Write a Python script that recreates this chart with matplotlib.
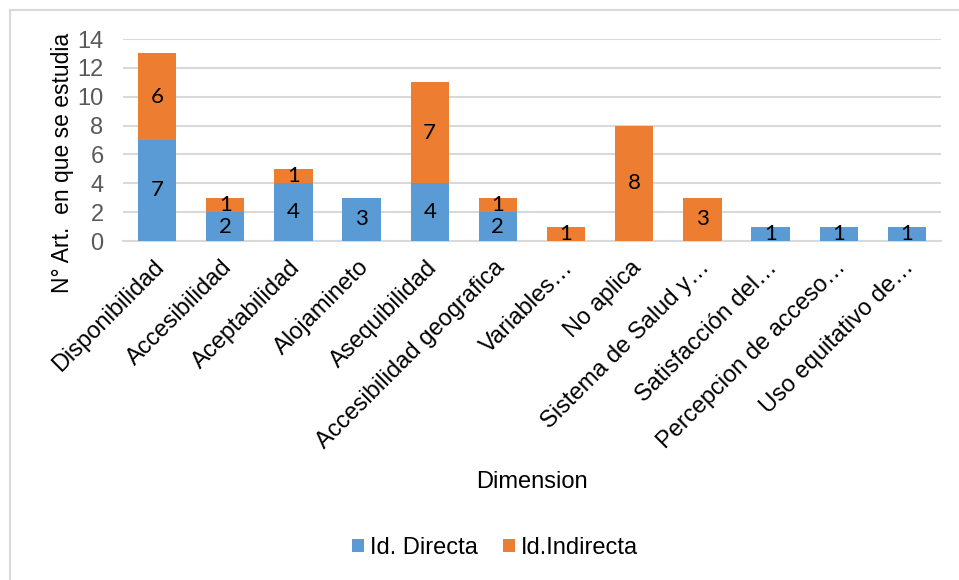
import numpy as np
import matplotlib.pyplot as plt
import matplotlib.transforms as mtransforms
from matplotlib.patches import Rectangle

# datos por dimension
dimensiones = ['Disponibilidad', 'Accesibilidad', 'Aceptabilidad', 'Alojamineto',
               'Asequibilidad', 'Accesibilidad geografica', 'Variables…', 'No aplica',
               'Sistema de Salud y…', 'Satisfacción del…', 'Percepcion de acceso…',
               'Uso equitativo de…']
directa = [7, 2, 4, 3, 4, 2, 0, 0, 0, 1, 1, 1]
indirecta = [6, 1, 1, 0, 7, 1, 1, 8, 3, 0, 0, 0]
yticks = [0, 2, 4, 6, 8, 10, 12, 14]

azul = '#5B9BD5'
naranja = '#ED7D31'
plt.rcParams['font.family'] = ['Liberation Sans', 'DejaVu Sans']

fig = plt.figure(figsize=(9.59, 5.8), dpi=100)
fig.patches.append(Rectangle((10/959, -0.1), 1.2, 1 - 10/580 + 0.1, transform=fig.transFigure,
                             fill=False, edgecolor='#d9d9d9', linewidth=1.5))
ax = fig.add_axes([123/959, 1 - 241/580, 818/959, 202/580])

x = np.arange(len(dimensiones))
b1 = ax.bar(x, directa, 0.56, color=azul, linewidth=0, label='Id. Directa', zorder=3)
b2 = ax.bar(x, indirecta, 0.56, bottom=directa, color=naranja, linewidth=0,
            label='Id.Indirecta', zorder=3)

# etiquetas de valor (sin ceros)
for barras, vals in ((b1, directa), (b2, indirecta)):
    ax.bar_label(barras, labels=[str(v) if v else '' for v in vals], label_type='center',
                 fontsize=16, family='Lato', color='black')

ax.set_xlim(-0.5, len(dimensiones) - 0.5)
ax.set_ylim(0, 14)
ax.set_yticks(yticks)
ax.yaxis.grid(True, color='#d9d9d9', linewidth=1.5, zorder=0)
ax.set_axisbelow(True)
for s in ['top', 'right', 'left']:
    ax.spines[s].set_visible(False)
ax.spines['bottom'].set_color('#d9d9d9')
ax.spines['bottom'].set_linewidth(1.5)
ax.tick_params(axis='both', length=0)
ax.tick_params(axis='y', labelsize=17, labelcolor='#595959', pad=14)
ax.set_xticks(x)
ax.set_xticklabels(dimensiones, rotation=45, ha='right', rotation_mode='anchor',
                   fontsize=17, color='black')
ax.tick_params(axis='x', pad=6)
desplaza = mtransforms.ScaledTranslation(-4/100, -7/100, fig.dpi_scale_trans)
for lbl in ax.get_xticklabels():
    lbl.set_transform(lbl.get_transform() + desplaza)

fig.text(62/959, 1 - 163/580, 'N° Art.  en que se estudia', rotation=90, ha='center',
         va='center', fontsize=16.5)
fig.text(532/959, 1 - 482/580, 'Dimension', ha='center', va='center', fontsize=17)

fig.legend(loc='center', bbox_to_anchor=(495/959, 1 - 548/580), ncol=2, frameon=False,
           fontsize=17, handlelength=0.5, handleheight=0.5, handletextpad=0.25, columnspacing=1.1)

fig.savefig('out.png', dpi=100)
